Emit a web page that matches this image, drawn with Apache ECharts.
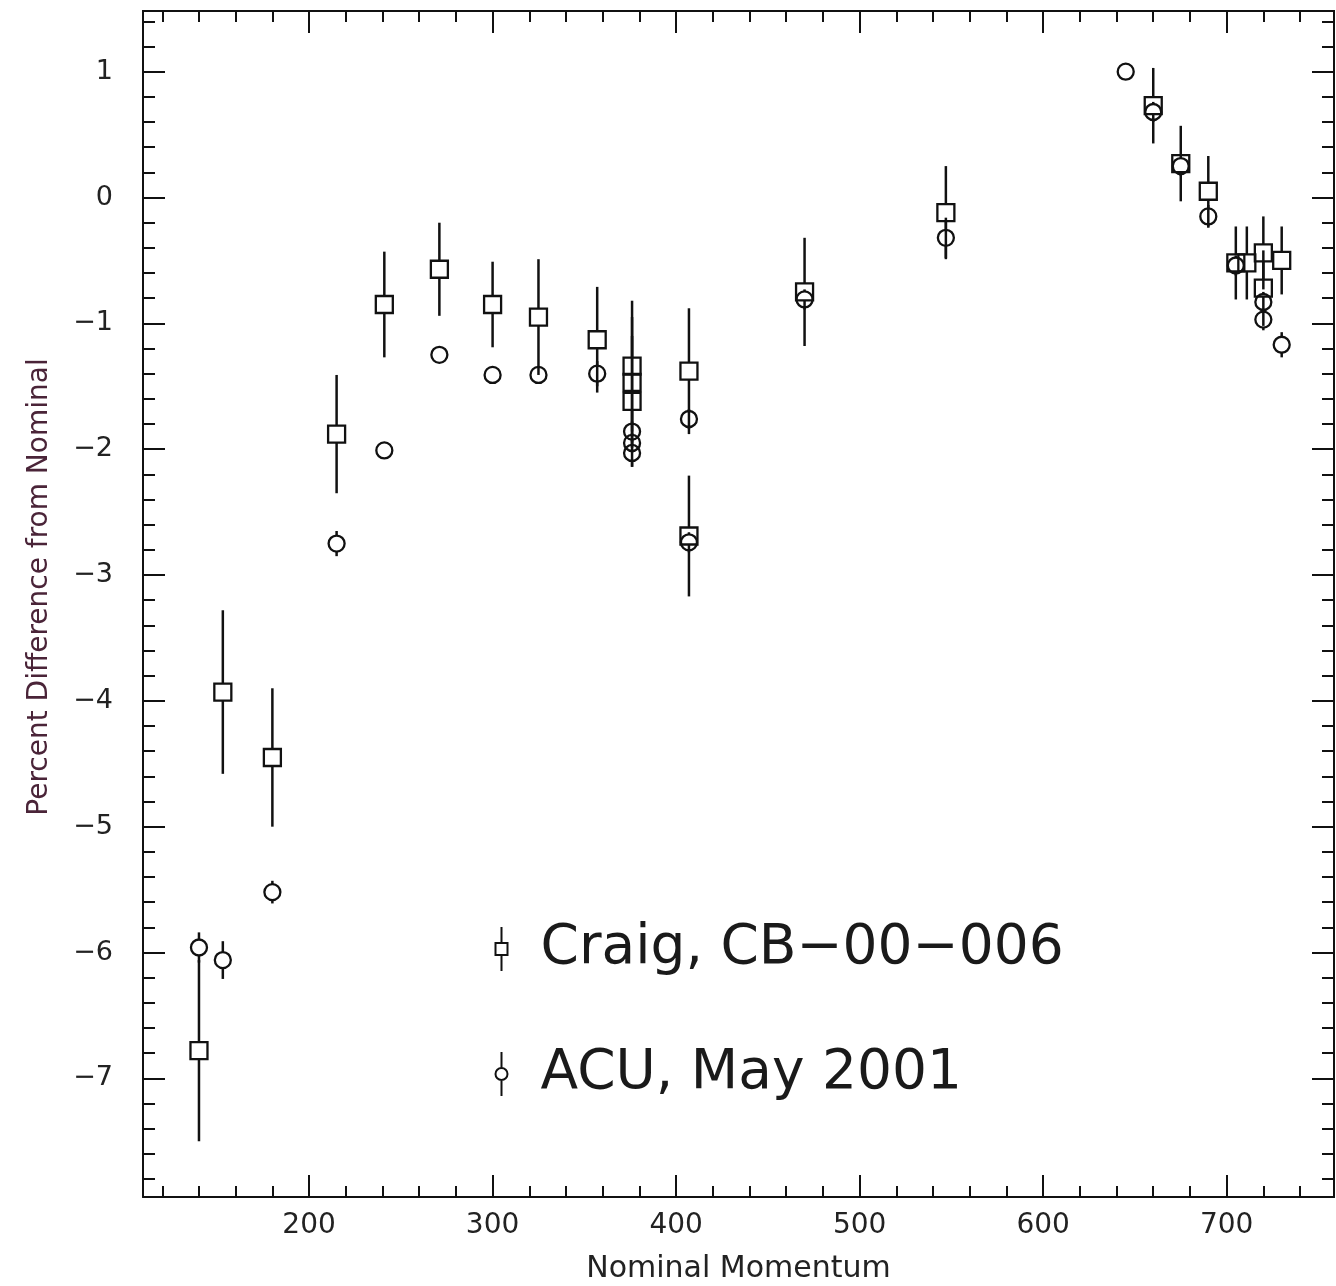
<!DOCTYPE html>
<html>
<head>
<meta charset="utf-8">
<title>Percent Difference from Nominal</title>
<script src="https://cdn.jsdelivr.net/npm/echarts@6/dist/echarts.min.js"></script>
<style>
  html, body { margin: 0; padding: 0; background: #ffffff; }
  #chart { width: 1336px; height: 1286px; }
</style>
</head>
<body>
<div id="chart"></div>
<script>
// Craig, CB-00-006 measurements: momentum, percent difference, error
const craigMomentum = [140, 153, 180, 215, 241, 271, 300, 325, 357, 376, 376, 376, 407, 407, 470, 547, 660, 675, 690, 705, 711, 720, 720, 730];
const craigDiff     = [-6.78, -3.93, -4.45, -1.88, -0.85, -0.57, -0.85, -0.95, -1.13, -1.34, -1.47, -1.62, -1.38, -2.69, -0.75, -0.12, 0.73, 0.27, 0.05, -0.52, -0.52, -0.44, -0.72, -0.50];
const craigErr      = [0.72, 0.65, 0.55, 0.47, 0.42, 0.37, 0.34, 0.46, 0.42, 0.52, 0.52, 0.52, 0.50, 0.48, 0.43, 0.37, 0.30, 0.30, 0.28, 0.29, 0.29, 0.29, 0.30, 0.27];

// ACU, May 2001 measurements
const acuMomentum = [140, 153, 180, 215, 241, 271, 300, 325, 357, 376, 376, 376, 407, 407, 470, 547, 645, 660, 675, 690, 705, 720, 720, 730];
const acuDiff     = [-5.96, -6.06, -5.52, -2.75, -2.01, -1.25, -1.41, -1.41, -1.40, -1.86, -1.95, -2.03, -1.76, -2.74, -0.81, -0.32, 1.00, 0.68, 0.25, -0.15, -0.54, -0.83, -0.97, -1.17];
const acuErr      = [0.12, 0.15, 0.09, 0.10, 0, 0, 0, 0, 0.10, 0.08, 0.08, 0.11, 0.08, 0.08, 0.08, 0.16, 0, 0.08, 0.08, 0.09, 0.08, 0.08, 0.085, 0.10];

// Axis ticks
const xMajorTicks = [200, 300, 400, 500, 600, 700];
const xMinorTicks = [120, 140, 160, 180, 220, 240, 260, 280, 320, 340, 360, 380, 420, 440, 460, 480,
                     520, 540, 560, 580, 620, 640, 660, 680, 720, 740];
const yMajorTicks = [-7, -6, -5, -4, -3, -2, -1, 0, 1];
const yMinorTicks = [-7.8, -7.6, -7.4, -7.2, -6.8, -6.6, -6.4, -6.2, -5.8, -5.6, -5.4, -5.2,
                     -4.8, -4.6, -4.4, -4.2, -3.8, -3.6, -3.4, -3.2, -2.8, -2.6, -2.4, -2.2,
                     -1.8, -1.6, -1.4, -1.2, -0.8, -0.6, -0.4, -0.2, 0.2, 0.4, 0.6, 0.8, 1.2, 1.4];

const X_MIN = 109.5, X_MAX = 758.5;
const Y_MIN = -7.943, Y_MAX = 1.4825;

const INK = '#111111';
const FONT = '"DejaVu Sans", "Noto Sans", sans-serif';
const LIGHT_FONT = '"DejaVu Sans ExtraLight", "DejaVu Sans", sans-serif';
const CRAIG = 'Craig, CB\u221200\u2212006';
const ACU = 'ACU, May 2001';

function zip(xs, ys, es) {
  return xs.map((x, i) => [x, ys[i], es[i]]);
}

// Hollow marker with a vertical error bar drawn outward from its edges
function errorMark(kind) {
  const half = kind === 'square' ? 8.5 : 8;
  return function (params, api) {
    const x = api.value(0), y = api.value(1), e = api.value(2);
    const c = api.coord([x, y]);
    const hi = api.coord([x, y + e]);
    const lo = api.coord([x, y - e]);
    const barStyle = { stroke: INK, lineWidth: 2.5, fill: 'none' };
    const children = [];
    if (c[1] - hi[1] > half) {
      children.push({ type: 'line', shape: { x1: c[0], y1: hi[1], x2: c[0], y2: c[1] - half }, style: barStyle });
    }
    if (lo[1] - c[1] > half) {
      children.push({ type: 'line', shape: { x1: c[0], y1: c[1] + half, x2: c[0], y2: lo[1] }, style: barStyle });
    }
    const markStyle = { stroke: INK, lineWidth: 2.3, fill: 'none' };
    if (kind === 'square') {
      children.push({ type: 'rect', shape: { x: c[0] - half, y: c[1] - half, width: half * 2, height: half * 2 }, style: markStyle });
    } else {
      children.push({ type: 'circle', shape: { cx: c[0], cy: c[1], r: half }, style: markStyle });
    }
    return { type: 'group', children: children };
  };
}

function xAxisOf(position, ticks, len, withLabels) {
  return {
    type: 'value', position: position, min: X_MIN, max: X_MAX,
    axisLine: { show: withLabels || position === 'top', onZero: false, lineStyle: { color: INK, width: 2 } },
    axisTick: { show: true, inside: true, length: len, customValues: ticks, lineStyle: { color: INK, width: 2 } },
    axisLabel: withLabels ? {
      show: true, customValues: xMajorTicks, margin: 15,
      color: '#222', fontSize: 28, fontFamily: FONT
    } : { show: false },
    splitLine: { show: false },
    name: withLabels ? 'Nominal Momentum' : '',
    nameLocation: 'middle', nameGap: 57,
    nameTextStyle: { color: '#222', fontSize: 30, fontFamily: FONT }
  };
}

function yAxisOf(position, ticks, len, withLabels) {
  return {
    type: 'value', position: position, min: Y_MIN, max: Y_MAX,
    axisLine: { show: withLabels || position === 'right', onZero: false, lineStyle: { color: INK, width: 2 } },
    axisTick: { show: true, inside: true, length: len, customValues: ticks, lineStyle: { color: INK, width: 2 } },
    axisLabel: withLabels ? {
      show: true, customValues: yMajorTicks, margin: 30,
      color: '#222', fontSize: 27, fontFamily: FONT,
      formatter: v => String(v).replace('-', '\u2212')
    } : { show: false },
    splitLine: { show: false }
  };
}

const chart = echarts.init(document.getElementById('chart'), null, { renderer: 'canvas' });

chart.setOption({
  backgroundColor: '#ffffff',
  animation: false,
  grid: { left: 143, right: 2, top: 11, bottom: 89, containLabel: false, outerBoundsMode: 'none' },
  xAxis: [
    xAxisOf('bottom', xMajorTicks, 22, true),
    xAxisOf('bottom', xMinorTicks, 11, false),
    xAxisOf('top', xMajorTicks, 22, false),
    xAxisOf('top', xMinorTicks, 11, false)
  ],
  yAxis: [
    yAxisOf('left', yMajorTicks, 22, true),
    yAxisOf('left', yMinorTicks, 12, false),
    yAxisOf('right', yMajorTicks, 22, false),
    yAxisOf('right', yMinorTicks, 12, false)
  ],
  legend: {
    orient: 'vertical',
    left: 493, top: 921,
    padding: 0,
    itemWidth: 68, itemHeight: 44,
    itemGap: 69,
    symbolKeepAspect: true,
    selectedMode: false,
    itemStyle: { color: 'none', borderColor: INK, borderWidth: 2 },
    textStyle: { color: '#1a1a1a', fontSize: 55, fontFamily: LIGHT_FONT, lineHeight: 56 },
    data: [
      { name: CRAIG, icon: 'path://M6,0 L6,16 M0,16 L12,16 L12,28 L0,28 Z M6,28 L6,44' },
      { name: ACU, icon: 'path://M6,0 L6,16 M12,22 A6,6 0 1 1 0,22 A6,6 0 1 1 12,22 Z M6,28 L6,44' }
    ]
  },
  graphic: [{
    type: 'text',
    x: 40, y: 587,
    rotation: Math.PI / 2,
    style: {
      text: 'Percent Difference from Nominal',
      fill: '#4a2438',
      font: '28px ' + FONT,
      textAlign: 'center',
      textVerticalAlign: 'middle'
    }
  }],
  series: [
    {
      name: CRAIG, type: 'custom', xAxisIndex: 0, yAxisIndex: 0,
      renderItem: errorMark('square'),
      encode: { x: 0, y: 1 },
      data: zip(craigMomentum, craigDiff, craigErr)
    },
    {
      name: ACU, type: 'custom', xAxisIndex: 0, yAxisIndex: 0,
      renderItem: errorMark('circle'),
      encode: { x: 0, y: 1 },
      data: zip(acuMomentum, acuDiff, acuErr)
    }
  ]
});
</script>
</body>
</html>
